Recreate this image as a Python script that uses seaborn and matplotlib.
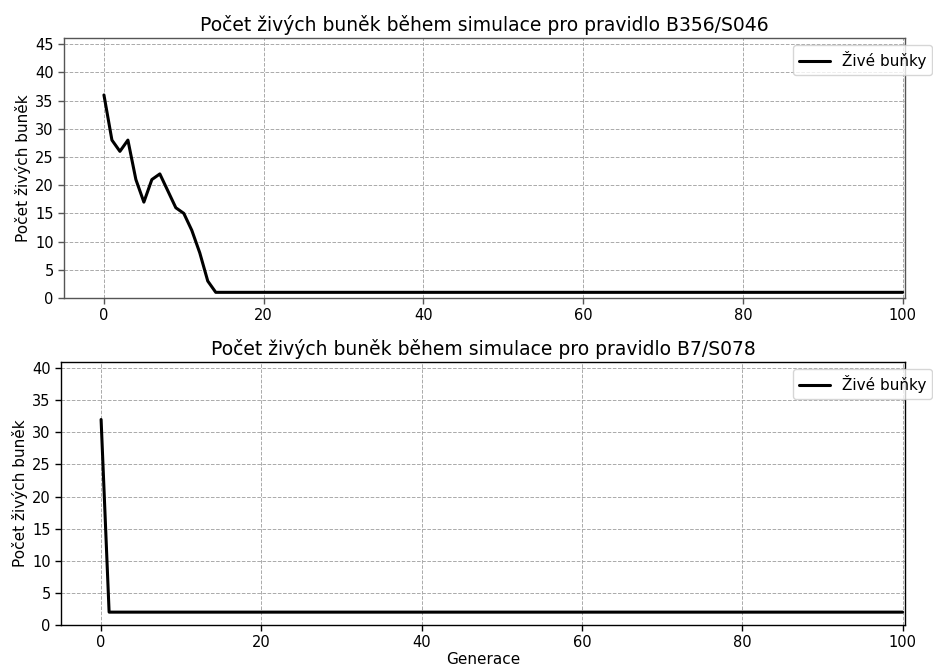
import numpy as np
import pandas as pd
import matplotlib
matplotlib.use("Agg")
import matplotlib.pyplot as plt
from matplotlib.ticker import MultipleLocator
import seaborn as sns

sns.set_style("white")
plt.rcParams['font.family'] = ['DejaVu Sans']
plt.rcParams['text.color'] = 'black'
plt.rcParams['axes.labelcolor'] = 'black'
plt.rcParams['xtick.color'] = 'black'
plt.rcParams['ytick.color'] = 'black'

generations = list(range(0, 101))
alive_b356 = [36, 28, 26, 28, 21, 17, 21, 22, 19, 16, 15, 12, 8, 3] + [1] * 87
alive_b7 = [32] + [2] * 100

title1 = "Počet živých buněk během simulace pro pravidlo B356/S046"
title2 = "Počet živých buněk během simulace pro pravidlo B7/S078"
ylabel = "Počet živých buněk"
xlabel = "Generace"
legend_label = "Živé buňky"

fig = plt.figure(figsize=(9.33, 6.69), dpi=100)
ax1 = fig.add_axes([0.0686, 0.5546, 0.9014, 0.3884])
ax2 = fig.add_axes([0.0654, 0.0658, 0.9046, 0.3931])

def draw(ax, vals, title, spine_color, show_xlabel, leg_top_px):
    df = pd.DataFrame({"Generace": generations, "val": vals})
    sns.lineplot(data=df, x="Generace", y="val", ax=ax, color="black",
                 linewidth=2.2, label=legend_label)
    ax.set_xlim(-5, 100.3)
    ax.set_ylim(0, max(vals) * 1.28)
    ax.yaxis.set_major_locator(MultipleLocator(5))
    ax.set_title(title, fontsize=13.5, color="black", pad=5)
    ax.set_ylabel(ylabel, fontsize=11, labelpad=3)
    ax.set_xlabel(xlabel if show_xlabel else "", fontsize=11, labelpad=1)
    ax.grid(True, linestyle="--", color="#aaaaaa", linewidth=0.7)
    ax.tick_params(axis="both", labelsize=10.5, length=4, width=1,
                   left=True, bottom=True, color=spine_color,
                   labelcolor="black")
    for s in ax.spines.values():
        s.set_color(spine_color)
        s.set_linewidth(1)
    leg = ax.legend(loc="upper left", fontsize=11, framealpha=0.8,
                    bbox_to_anchor=(793 / 933, 1 - leg_top_px / 669),
                    bbox_transform=fig.transFigure, borderaxespad=0)
    for t in leg.get_texts():
        t.set_color("black")

draw(ax1, alive_b356, title1, "#555555", False, 45)
draw(ax2, alive_b7, title2, "black", True, 369)

fig.savefig("out.png", dpi=100)
